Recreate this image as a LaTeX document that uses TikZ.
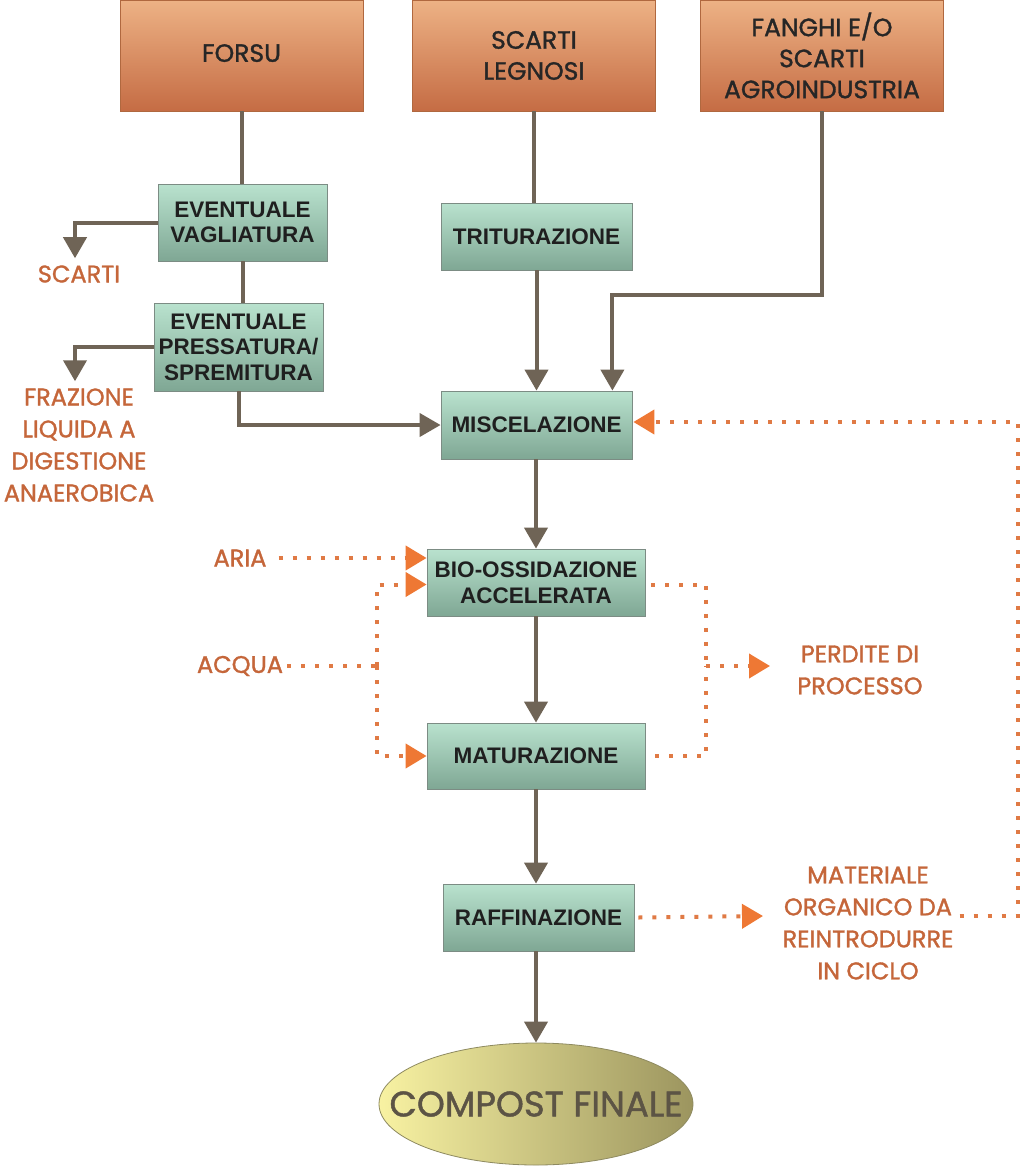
\documentclass[tikz,border=0pt]{standalone}
\usepackage{fontspec}
\setmainfont{Liberation Sans}
\newfontfamily\comic{Poppins}[FakeBold=1.3]
\usetikzlibrary{arrows.meta,shapes.geometric,calc}
\definecolor{orTop}{HTML}{EDB285}
\definecolor{orBot}{HTML}{C56C44}
\definecolor{orEdge}{HTML}{B0683F}
\definecolor{grTop}{HTML}{B9E2CE}
\definecolor{grBot}{HTML}{7FA794}
\definecolor{grEdge}{HTML}{7C8C84}
\definecolor{lineC}{HTML}{6F6456}
\definecolor{dotC}{HTML}{E07A45}
\definecolor{tipC}{HTML}{EE7834}
\definecolor{labC}{HTML}{C5663A}
\definecolor{elL}{HTML}{F8F2A2}
\definecolor{elR}{HTML}{9C955F}
\definecolor{elEdge}{HTML}{8E8A60}
\definecolor{elText}{HTML}{5C5445}
\begin{document}
\begin{tikzpicture}[x=1pt,y=-1pt,
  srcbox/.style={draw=orEdge, line width=0.8pt, top color=orTop, bottom color=orBot,
     minimum width=243pt, minimum height=111pt, align=center, inner sep=0pt,
     font=\comic\fontsize{25}{31}\selectfont, text=black!85},
  procbox/.style={draw=grEdge, line width=0.8pt, top color=grTop, bottom color=grBot,
     minimum height=67pt, align=center, inner sep=0pt,
     font=\bfseries\fontsize{22.5}{25.5}\selectfont, text=black!88},
  lab/.style={align=center, inner sep=0pt, text=labC,
     font=\comic\fontsize{24}{32}\selectfont},
  conn/.style={draw=lineC, line width=4pt},
  carrow/.style={conn, -{Triangle[width=23pt,length=21pt]}},
  dots/.style={draw=dotC, line width=4pt, dash pattern=on 4pt off 10pt},
  darrow/.style={dots, -{Triangle[width=24pt,length=21pt,fill=tipC,color=tipC]}}
]
\useasboundingbox (0,0) rectangle (1024,1170);
\fill[white] (0,0) rectangle (1024,1170);

% source boxes
\node[srcbox] (forsu) at (241.5,55.5) {\raisebox{5pt}{FORSU}};
\node[srcbox] (legno) at (534,55.5) {SCARTI\\LEGNOSI};
\node[srcbox] (fanghi) at (822,55.5) {FANGHI E/O\\SCARTI\\AGROINDUSTRIA};

% process boxes
\node[procbox, minimum width=169pt, minimum height=77pt] (vagl) at (242.5,222.5) {EVENTUALE\\VAGLIATURA};
\node[procbox, minimum width=191pt] (trit) at (536.5,236.5) {TRITURAZIONE};
\node[procbox, minimum width=169pt, minimum height=88pt] (press) at (238.5,347) {EVENTUALE\\PRESSATURA/\\SPREMITURA};
\node[procbox, minimum width=191pt, minimum height=68pt] (misc) at (536.5,425) {MISCELAZIONE};
\node[procbox, minimum width=218pt] (bio) at (536,582.5) {BIO-OSSIDAZIONE\\ACCELERATA};
\node[procbox, minimum width=218pt, minimum height=66pt] (mat) at (536,756) {MATURAZIONE};
\node[procbox, minimum width=191pt] (raff) at (538.5,917.5) {RAFFINAZIONE};
\node[ellipse, draw=elEdge, line width=0.8pt, left color=elL, right color=elR,
      minimum width=314pt, minimum height=122pt, inner sep=0pt] (comp) at (536,1104) {};
\node[font=\comic\fontsize{35.5}{38}\selectfont, text=elText, inner sep=0pt] (comptext) at (comp.center) {COMPOST FINALE};

% labels
\node[lab] (scarti) at (79,274) {SCARTI};
\node[lab] (fraz) at (79,445) {FRAZIONE\\LIQUIDA A\\DIGESTIONE\\ANAEROBICA};
\node[lab] (aria) at (240,558) {ARIA};
\node[lab] (acqua) at (240,666) {ACQUA};
\node[lab] (perd) at (860,670) {PERDITE DI\\PROCESSO};
\node[lab] (matl) at (868,923) {MATERIALE\\ORGANICO DA\\REINTRODURRE\\IN CICLO};

% solid connectors
\draw[conn] (forsu.south) -- (forsu.south |- vagl.north);
\draw[conn] (vagl.south) -- (vagl.south |- press.north);
\draw[carrow] (vagl.west) -| ($(scarti.north)+(-4,-7)$);
\draw[carrow] (press.west) -| ($(fraz.north)+(-4,-7)$);
\draw[carrow] (press.south) |- (misc.west);
\draw[conn] (legno.south) -- (legno.south |- trit.north);
\draw[carrow] (trit.south) -- (misc.north);
\draw[carrow] (fanghi.south) -- ++(0,184) -| ($(misc.north east)+(-20,0)$);
\draw[carrow] (bio.north |- misc.south) -- (bio.north);
\draw[carrow] (bio.south) -- (mat.north);
\draw[carrow] (mat.south) -- (mat.south |- raff.north);
\draw[carrow] (mat.south |- raff.south) -- (comp.north);

% dotted flows
\draw[darrow] ($(aria.east)+(12,0)$) -- (aria -| bio.west);
\coordinate (ja) at (377,666);
\draw[dots] ($(acqua.east)+(4,0)$) -- (ja);
\draw[darrow] (ja) |- ($(bio.west)+(0,2)$);
\draw[darrow] (ja) |- (mat.west);
\coordinate (jp) at (706,666);
\draw[dots] ($(bio.east)+(6,2)$) -| (jp);
\draw[dots] ($(mat.east)+(10,0)$) -| (jp);
\draw[darrow] (jp) -- (770,666);
\draw[darrow] ($(raff.east)+(4,0)$) -- (763,916);
\coordinate (rt) at (1018,422);
\draw[darrow] ($(matl.east |- raff)+(6,-2)$) -| (rt) -- ($(misc.east |- rt)+(1,0)$);
\end{tikzpicture}
\end{document}
